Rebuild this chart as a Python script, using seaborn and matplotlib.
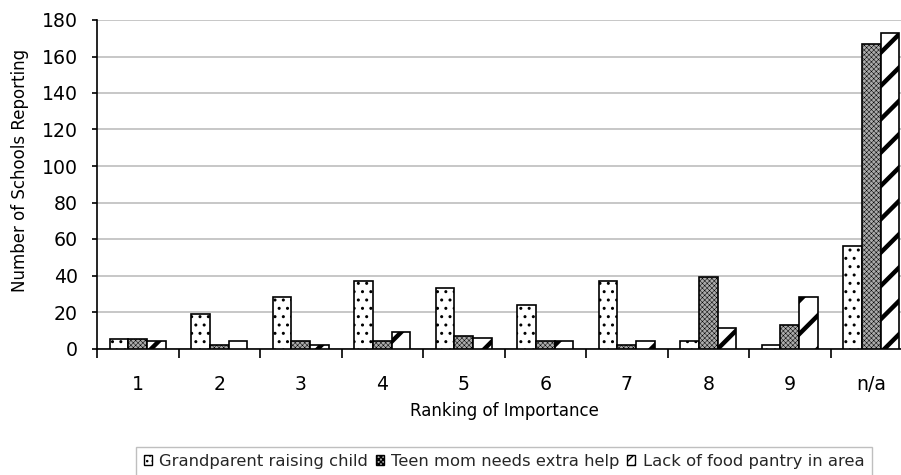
import numpy as np
import pandas as pd
import matplotlib
matplotlib.use("Agg")
import matplotlib.pyplot as plt
from matplotlib.patches import Patch
import seaborn as sns

categories = ["1", "2", "3", "4", "5", "6", "7", "8", "9", "n/a"]
series = ["Grandparent raising child", "Teen mom needs extra help", "Lack of food pantry in area"]
grandparent = [5, 19, 28, 37, 33, 24, 37, 4, 2, 56]
teen_mom = [5, 2, 4, 4, 7, 4, 2, 39, 13, 167]
food_pantry = [4, 4, 2, 9, 6, 4, 4, 11, 28, 173]
y_ticks = [0, 20, 40, 60, 80, 100, 120, 140, 160, 180]

df = pd.DataFrame({
    "Ranking": categories * 3,
    "Count": grandparent + teen_mom + food_pantry,
    "Series": [series[0]] * 10 + [series[1]] * 10 + [series[2]] * 10,
})

sns.set_theme(style="white")
plt.rcParams["font.family"] = ["DejaVu Sans"]

fig = plt.figure(figsize=(9.01, 4.75), dpi=100)
W, H = 901, 475
x0, x1, ytop, ybot = 97, 912, 20, 348.5
ax = fig.add_axes([x0 / W, 1 - ybot / H, (x1 - x0) / W, (ybot - ytop) / H])

faces = ["white", "#ababab", "white"]
hatches = ["..", "xxxxxxx", "/"]
legend_hatches = ["...", "xxxxxxx", "///"]
hatch_lw = [1.0, 0.35, 3.2]
legend_hatch_lw = [1.0, 0.35, 1.4]

sns.barplot(data=df, x="Ranking", y="Count", hue="Series", order=categories,
            hue_order=series, palette=faces, width=0.69, dodge=True,
            edgecolor="black", linewidth=1.2, saturation=1, legend=False, ax=ax, zorder=3)

for cont, h, lw, fc in zip(ax.containers, hatches, hatch_lw, faces):
    for p in cont:
        p.set_hatch(h)
        p.set_facecolor(fc)
        if hasattr(p, "set_hatch_linewidth"):
            p.set_hatch_linewidth(lw)

ax.set_xlim(-0.5, 9.5)
ax.set_ylim(0, 180)
ax.set_yticks(y_ticks)
ax.yaxis.grid(True, color="#bdbdbd", linewidth=1.2, zorder=0)
ax.set_axisbelow(True)
for s in ["top", "right"]:
    ax.spines[s].set_visible(False)
for s in ["left", "bottom"]:
    ax.spines[s].set_color("black")
    ax.spines[s].set_linewidth(1.2)

ax.set_xticks(np.arange(-0.5, 10, 1), minor=True)
ax.tick_params(axis="x", which="major", length=0, pad=19, labelsize=13.6, colors="black")
ax.tick_params(axis="x", which="minor", length=6.5, width=1.2, color="black", direction="out", bottom=True)
ax.tick_params(axis="y", which="major", length=3.6, width=1.2, color="black", direction="out", left=True,
               labelsize=13.6, pad=10, labelcolor="black")

ax.set_xlabel("Ranking of Importance", fontsize=12, color="black", va="center")
ax.xaxis.set_label_coords(0.5, -(411 - ybot) / (ybot - ytop))
ax.set_ylabel("Number of Schools Reporting", fontsize=12, color="black", va="center")
ax.yaxis.set_label_coords(-(x0 - 20) / (x1 - x0), (ybot - 170) / (ybot - ytop))

handles = []
for fc, h, lw in zip(faces, legend_hatches, legend_hatch_lw):
    p = Patch(facecolor=fc, edgecolor="black", hatch=h, linewidth=1.0)
    if hasattr(p, "set_hatch_linewidth"):
        p.set_hatch_linewidth(lw)
    handles.append(p)
leg = fig.legend(handles, series, loc="upper center", bbox_to_anchor=(504 / W, 1 - 446.5 / H),
                 ncol=3, fontsize=11.8, frameon=True, fancybox=False, edgecolor="#b0b0b0",
                 handlelength=0.5, handleheight=0.5, handletextpad=0.45, columnspacing=0.45,
                 borderpad=0.45, borderaxespad=0)
leg.get_frame().set_linewidth(1.0)

fig.savefig("out.png", dpi=100)
